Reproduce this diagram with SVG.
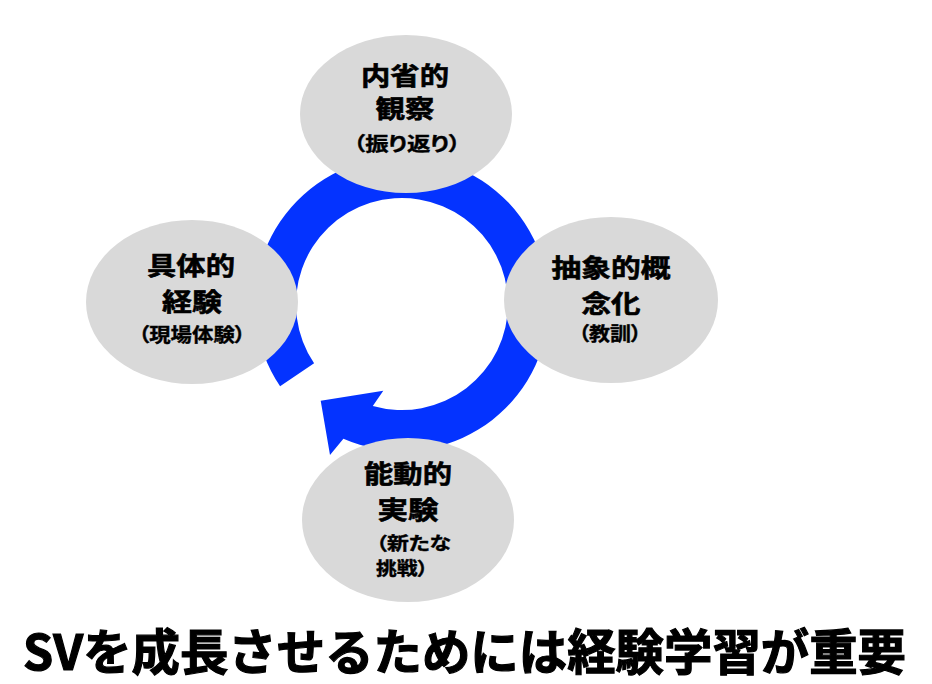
<svg xmlns="http://www.w3.org/2000/svg" width="932" height="684" viewBox="0 0 932 684">
<style>
.node{fill:#d9d9d9}
.t{font-family:"Noto Sans CJK JP","Noto Sans CJK SC",sans-serif;font-weight:700;fill:#000;stroke:#000;stroke-width:0.6px}
.m{font-size:25px;text-anchor:middle}
.s{font-size:19px;text-anchor:middle;font-feature-settings:"palt";stroke-width:0.4px}
.sl{font-size:18px;text-anchor:start;font-feature-settings:"palt";stroke-width:0.4px}
.title{font-size:49px;stroke-width:1.2px}
</style>
<rect width="932" height="684" fill="#fff"/>
<g id="connectors">
<path d="M280.1,386.2 A147,147 0 1 1 343.4,438.8 L330,455 L320.7,400.7 L383.3,390.7 L372.8,405.9 A106,106 0 1 0 314.1,363.3 Z" fill="#0433ff"/>
</g>
<g id="node-top">
<ellipse class="node" cx="406" cy="114" rx="106" ry="79"/>
<text class="t m" x="405" y="85" textLength="88" lengthAdjust="spacingAndGlyphs">内省的</text>
<text class="t m" x="405" y="118" textLength="59" lengthAdjust="spacingAndGlyphs">観察</text>
<text class="t s" x="407" y="151" textLength="107" lengthAdjust="spacingAndGlyphs">（振り返り）</text>
</g>
<g id="node-left">
<ellipse class="node" cx="192" cy="302" rx="106" ry="82"/>
<text class="t m" x="191" y="275" textLength="88" lengthAdjust="spacingAndGlyphs">具体的</text>
<text class="t m" x="192" y="311" textLength="60" lengthAdjust="spacingAndGlyphs">経験</text>
<text class="t s" x="192" y="342" textLength="107" lengthAdjust="spacingAndGlyphs">（現場体験）</text>
</g>
<g id="node-right">
<ellipse class="node" cx="611" cy="300" rx="107" ry="83"/>
<text class="t m" x="611" y="277" textLength="119" lengthAdjust="spacingAndGlyphs">抽象的概</text>
<text class="t m" x="611" y="313" textLength="59" lengthAdjust="spacingAndGlyphs">念化</text>
<text class="t s" x="610" y="341" textLength="63" lengthAdjust="spacingAndGlyphs">（教訓）</text>
</g>
<g id="node-bottom">
<ellipse class="node" cx="408" cy="520" rx="106" ry="82"/>
<text class="t m" x="408" y="483" textLength="88" lengthAdjust="spacingAndGlyphs">能動的</text>
<text class="t m" x="408" y="519" textLength="61" lengthAdjust="spacingAndGlyphs">実験</text>
<text class="t sl" x="376" y="550" textLength="75" lengthAdjust="spacingAndGlyphs">（新たな</text>
<text class="t sl" x="376" y="575" textLength="52" lengthAdjust="spacingAndGlyphs">挑戦）</text>
</g>
<text class="t title" x="23" y="670" textLength="883" lengthAdjust="spacingAndGlyphs">SVを成長させるためには経験学習が重要</text>
</svg>
